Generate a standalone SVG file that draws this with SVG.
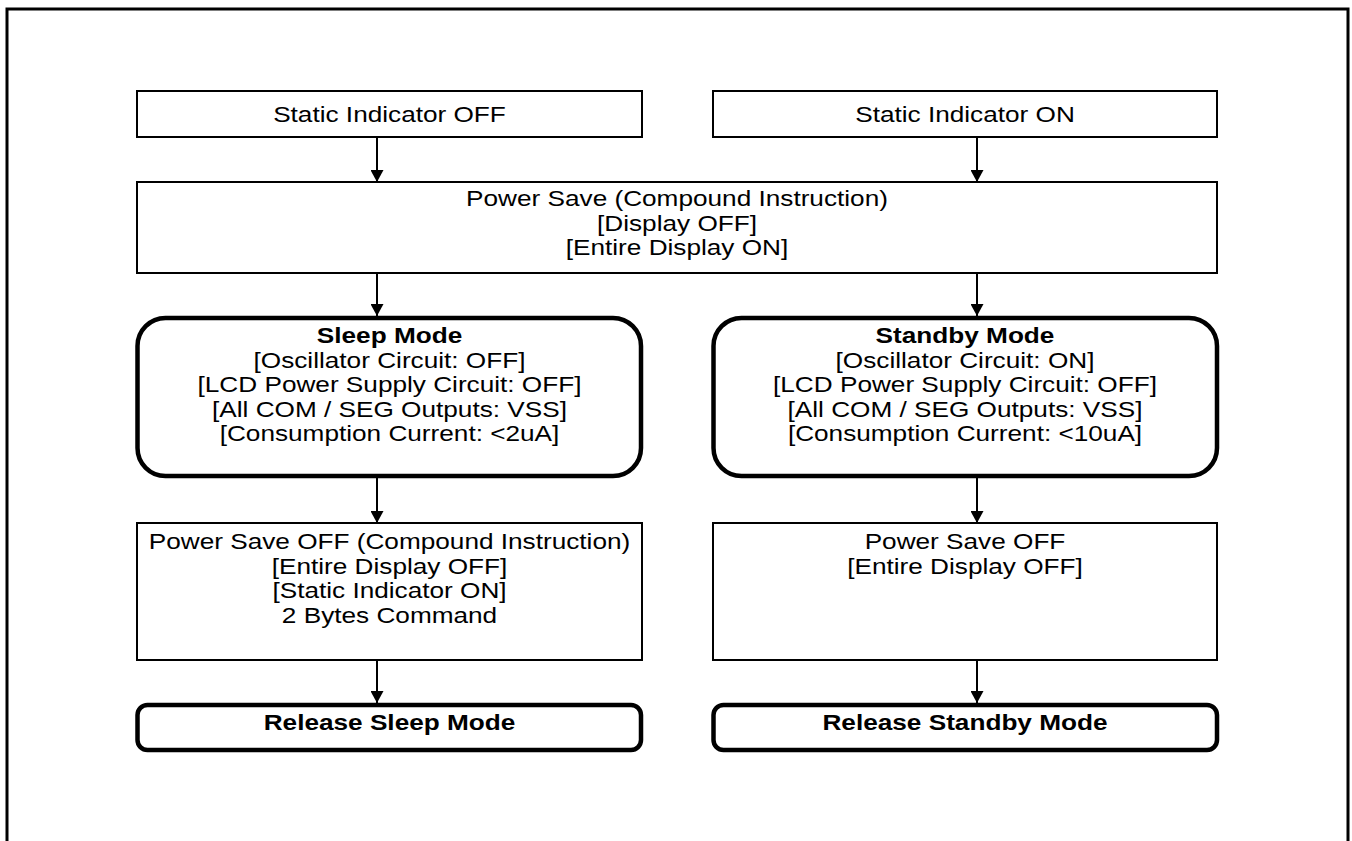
<svg xmlns="http://www.w3.org/2000/svg" width="1352" height="841" viewBox="0 0 1352 841">
<defs>
<style>
.thin{fill:#fff;stroke:#000;stroke-width:2}
.thick{fill:#fff;stroke:#000;stroke-width:4.5}
.t{font-family:"Liberation Sans",Arial,sans-serif;font-size:22px;fill:#000;text-anchor:middle}
.b{font-weight:bold}
.c{stroke:#000;stroke-width:2;fill:none}
</style>
<marker id="ah" viewBox="0 0 12 13" refX="12" refY="6.5" markerWidth="12" markerHeight="13" markerUnits="userSpaceOnUse" orient="auto">
<path d="M0,0 L12,6.5 L0,13 Z" fill="#000"/>
</marker>
</defs>
<rect x="0" y="0" width="1352" height="841" fill="#fff"/>
<path d="M7,845 V9 H1348 V845" fill="none" stroke="#000" stroke-width="3"/>

<g id="connectors">
<line class="c" x1="377" y1="137" x2="377" y2="182" marker-end="url(#ah)"/>
<line class="c" x1="977" y1="137" x2="977" y2="182" marker-end="url(#ah)"/>
<line class="c" x1="377" y1="273" x2="377" y2="316" marker-end="url(#ah)"/>
<line class="c" x1="977" y1="273" x2="977" y2="316" marker-end="url(#ah)"/>
<line class="c" x1="377" y1="478" x2="377" y2="523" marker-end="url(#ah)"/>
<line class="c" x1="977" y1="478" x2="977" y2="523" marker-end="url(#ah)"/>
<line class="c" x1="377" y1="660" x2="377" y2="703" marker-end="url(#ah)"/>
<line class="c" x1="977" y1="660" x2="977" y2="703" marker-end="url(#ah)"/>
</g>

<g id="static-off">
<rect class="thin" x="137" y="91" width="505" height="46"/>
<text class="t" transform="matrix(1.19 0 0 1 389.5 122)">Static Indicator OFF</text>
</g>
<g id="static-on">
<rect class="thin" x="713" y="91" width="504" height="46"/>
<text class="t" transform="matrix(1.19 0 0 1 965 122)">Static Indicator ON</text>
</g>
<g id="power-save">
<rect class="thin" x="137" y="182" width="1080" height="91"/>
<text class="t" transform="matrix(1.19 0 0 1 677 206)">Power Save (Compound Instruction)</text>
<text class="t" transform="matrix(1.19 0 0 1 677 230.5)">[Display OFF]</text>
<text class="t" transform="matrix(1.19 0 0 1 677 255)">[Entire Display ON]</text>
</g>
<g id="sleep-mode">
<rect class="thick" x="137.5" y="318" width="503.5" height="158" rx="28" ry="28"/>
<text class="t b" transform="matrix(1.19 0 0 1 389.5 343)">Sleep Mode</text>
<text class="t" transform="matrix(1.19 0 0 1 389.5 367.5)">[Oscillator Circuit: OFF]</text>
<text class="t" transform="matrix(1.19 0 0 1 389.5 392)">[LCD Power Supply Circuit: OFF]</text>
<text class="t" transform="matrix(1.19 0 0 1 389.5 416.5)">[All COM / SEG Outputs: VSS]</text>
<text class="t" transform="matrix(1.19 0 0 1 389.5 441)">[Consumption Current: &lt;2uA]</text>
</g>
<g id="standby-mode">
<rect class="thick" x="713.5" y="318" width="503.5" height="158" rx="28" ry="28"/>
<text class="t b" transform="matrix(1.19 0 0 1 965 343)">Standby Mode</text>
<text class="t" transform="matrix(1.19 0 0 1 965 367.5)">[Oscillator Circuit: ON]</text>
<text class="t" transform="matrix(1.19 0 0 1 965 392)">[LCD Power Supply Circuit: OFF]</text>
<text class="t" transform="matrix(1.19 0 0 1 965 416.5)">[All COM / SEG Outputs: VSS]</text>
<text class="t" transform="matrix(1.19 0 0 1 965 441)">[Consumption Current: &lt;10uA]</text>
</g>
<g id="power-save-off-left">
<rect class="thin" x="137" y="523" width="505" height="137"/>
<text class="t" transform="matrix(1.19 0 0 1 389.5 549)">Power Save OFF (Compound Instruction)</text>
<text class="t" transform="matrix(1.19 0 0 1 389.5 573.5)">[Entire Display OFF]</text>
<text class="t" transform="matrix(1.19 0 0 1 389.5 598)">[Static Indicator ON]</text>
<text class="t" transform="matrix(1.19 0 0 1 389.5 622.5)">2 Bytes Command</text>
</g>
<g id="power-save-off-right">
<rect class="thin" x="713" y="523" width="504" height="137"/>
<text class="t" transform="matrix(1.19 0 0 1 965 549)">Power Save OFF</text>
<text class="t" transform="matrix(1.19 0 0 1 965 573.5)">[Entire Display OFF]</text>
</g>
<g id="release-sleep">
<rect class="thick" x="137.5" y="705" width="503.5" height="45" rx="10" ry="10"/>
<text class="t b" transform="matrix(1.19 0 0 1 389.5 730)">Release Sleep Mode</text>
</g>
<g id="release-standby">
<rect class="thick" x="713.5" y="705" width="503.5" height="45" rx="10" ry="10"/>
<text class="t b" transform="matrix(1.19 0 0 1 965 730)">Release Standby Mode</text>
</g>
</svg>
